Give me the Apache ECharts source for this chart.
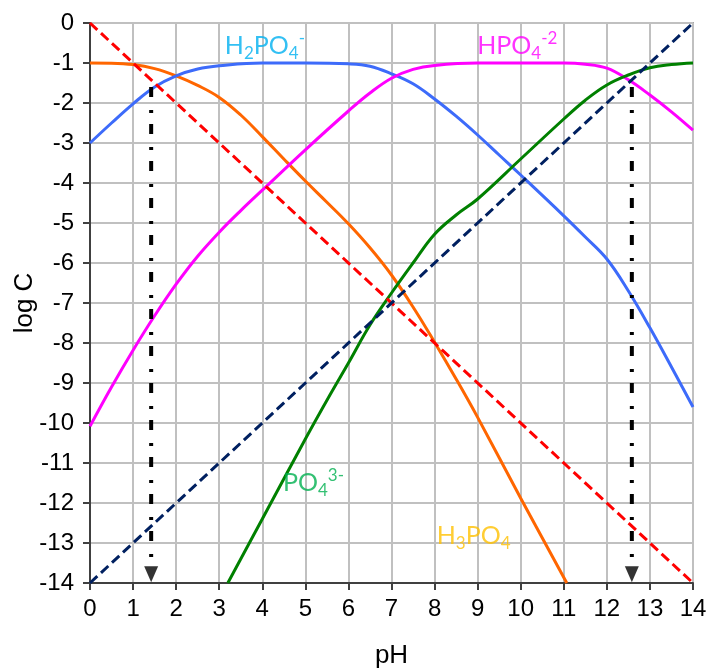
<!DOCTYPE html>
<html>
<head>
<meta charset="utf-8">
<script src="https://cdn.jsdelivr.net/npm/echarts@6/dist/echarts.min.js"></script>
<style>html,body{margin:0;padding:0;background:#fff}#c{width:712px;height:672px}</style>
</head>
<body>
<div id="c"></div>
<script>
// ---- data ----
const pH_H3PO4 = [0, 0.5, 1, 1.5, 2, 2.5, 3, 3.5, 4, 4.5, 5, 5.5, 6, 6.5, 7, 7.5, 8, 8.5, 9, 10, 11.07];
const log_H3PO4 = [-1, -1.005, -1.04, -1.14, -1.32, -1.56, -1.86, -2.3, -2.84, -3.4, -3.95, -4.48, -5.02, -5.62, -6.3, -7.1, -7.98, -8.9, -9.86, -11.88, -14];

const pH_H2PO4 = [0, 0.5, 1, 1.5, 2, 2.5, 3, 4, 5, 6, 6.5, 7, 7.5, 8, 8.5, 9, 9.5, 10, 11, 11.5, 12, 12.5, 13, 13.5, 14];
const log_H2PO4 = [-3.0, -2.5, -2.02, -1.6, -1.32, -1.15, -1.07, -1.0, -1.0, -1.02, -1.08, -1.27, -1.52, -1.9, -2.33, -2.8, -3.3, -3.8, -4.82, -5.35, -5.9, -6.7, -7.62, -8.6, -9.6];

const pH_HPO4 = [0, 0.5, 1, 1.5, 2, 2.5, 3, 3.5, 4, 5, 6, 6.5, 7, 7.5, 8, 9, 10, 11, 11.5, 12, 12.5, 13, 13.5, 14];
const log_HPO4 = [-10.08, -9.1, -8.18, -7.32, -6.53, -5.83, -5.23, -4.69, -4.18, -3.17, -2.2, -1.75, -1.38, -1.16, -1.06, -1.0, -1.0, -1.0, -1.03, -1.13, -1.42, -1.8, -2.22, -2.68];

const pH_PO4 = [3.2, 4, 5, 5.57, 6, 6.5, 7, 7.5, 8, 8.5, 9, 10, 11, 11.5, 12, 12.5, 13, 13.5, 14];
const log_PO4 = [-14, -12.4, -10.4, -9.3, -8.5, -7.55, -6.75, -6.0, -5.28, -4.8, -4.4, -3.4, -2.4, -1.93, -1.55, -1.3, -1.12, -1.04, -1.0];

const pH_ends = [0, 14];
const log_H = [0, -14];
const log_OH = [-14, 0];

const arrowPH = [1.42, 12.58];
const arrowTop = -1.6;
const arrowBottom = -13.5;
const arrowHead = -13.78;

const xTicks = [0, 14, 1];
const yTicks = [-14, 0, 1];

// ---- build ----
const zip = (xs, ys) => xs.map((x, i) => [x, ys[i]]);
const chart = echarts.init(document.getElementById('c'), null, {renderer: 'canvas'});

const curve = (name, xs, ys, color) => ({
  name, type: 'line', data: zip(xs, ys), showSymbol: false, symbol: 'none',
  smooth: 0.4,
  lineStyle: {color, width: 3}, z: 3, silent: true
});
const dashed = (name, ys, color) => ({
  name, type: 'line', data: zip(pH_ends, ys), showSymbol: false, symbol: 'none',
  lineStyle: {color, width: 3, type: [10, 5]}, z: 4, silent: true
});

const arrowSeries = arrowPH.map(x => ({
  type: 'line', data: [[x, arrowTop], [x, arrowBottom]], showSymbol: false, symbol: 'none',
  lineStyle: {color: '#000', width: 4, type: [10, 13, 3, 11]}, z: 5, silent: true
}));

const subFont = 'Lato, "Open Sans", sans-serif';
const rich = color => ({
  m: {fontSize: 25, color, fontFamily: subFont, lineHeight: 32, verticalAlign: 'middle'},
  s: {fontSize: 17, color, fontFamily: subFont, lineHeight: 17, verticalAlign: 'bottom'},
  p: {fontSize: 17, color, fontFamily: subFont, lineHeight: 15, verticalAlign: 'top'}
});
const labelSeries = (xy, text, color) => ({
  type: 'scatter', data: [xy], symbolSize: 0, silent: true, z: 6,
  label: {show: true, position: [0, 0], align: 'left', verticalAlign: 'middle',
    formatter: text, rich: rich(color)}
});

const axisFont = '"Liberation Sans", Arial, sans-serif';
chart.setOption({
  animation: false,
  grid: {left: 90, right: 19, top: 23, bottom: 89, show: true, borderColor: '#a6a6a6', borderWidth: 2,
    containLabel: false, outerBoundsMode: 'none'},
  xAxis: {
    type: 'value', min: xTicks[0], max: xTicks[1], interval: xTicks[2],
    name: 'pH', nameLocation: 'middle', nameGap: 60, nameMoveOverlap: false,
    nameTextStyle: {fontSize: 26, color: '#000', fontFamily: axisFont},
    axisLine: {show: true, onZero: false, lineStyle: {color: '#404040', width: 2}},
    axisTick: {show: true, length: 7, inside: false, lineStyle: {color: '#404040', width: 2}},
    axisLabel: {fontSize: 24, color: '#000', margin: 14, fontFamily: axisFont},
    splitLine: {show: true, lineStyle: {color: '#c0c0c0', width: 2}}
  },
  yAxis: {
    type: 'value', min: yTicks[0], max: yTicks[1], interval: yTicks[2],
    name: 'log C', nameLocation: 'middle', nameGap: 52, nameRotate: 90, nameMoveOverlap: false,
    nameTextStyle: {fontSize: 26, color: '#000', fontFamily: axisFont},
    axisLine: {show: true, onZero: false, lineStyle: {color: '#404040', width: 2}},
    axisTick: {show: true, length: 7, inside: false, lineStyle: {color: '#404040', width: 2}},
    axisLabel: {fontSize: 24, color: '#000', margin: 16, fontFamily: axisFont},
    splitLine: {show: true, lineStyle: {color: '#c0c0c0', width: 2}}
  },
  series: [
    curve('H3PO4', pH_H3PO4, log_H3PO4, '#ff6600'),
    curve('H2PO4-', pH_H2PO4, log_H2PO4, '#3d6bfa'),
    curve('HPO4-2', pH_HPO4, log_HPO4, '#ff00ff'),
    curve('PO4-3', pH_PO4, log_PO4, '#008000'),
    dashed('H+', log_H, '#ff0000'),
    dashed('OH-', log_OH, '#002060'),
    ...arrowSeries,
    {type: 'scatter', data: arrowPH.map(x => [x, arrowHead]), symbol: 'triangle', symbolRotate: 180,
      symbolSize: [14, 16], itemStyle: {color: '#000'}, z: 6, silent: true},
    labelSeries([3.13, -0.58], '{m|H}{s|2}{m|PO}{s|4}{p|-}', '#00b0f0'),
    labelSeries([8.99, -0.58], '{m|HPO}{s|4}{p|-2}', '#ff00ff'),
    labelSeries([4.48, -11.5], '{m|PO}{s|4}{p|3-}', '#00b050'),
    labelSeries([8.05, -12.83], '{m|H}{s|3}{m|PO}{s|4}', '#ffc000')
  ]
});
</script>
</body>
</html>
